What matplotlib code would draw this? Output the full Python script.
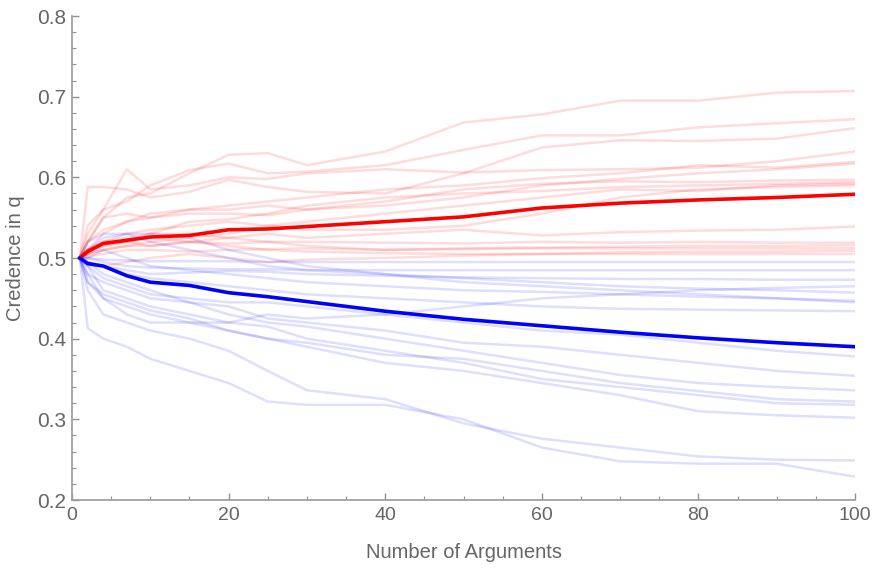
import matplotlib
matplotlib.use("Agg")
import matplotlib.pyplot as plt
from matplotlib.ticker import MultipleLocator

plt.rcParams['font.family'] = ['Liberation Sans', 'DejaVu Sans']

# x positions (number of arguments) where values were read
x_knots = [1, 2, 4, 7, 10, 15, 20, 25, 30, 40, 50, 60, 70, 80, 90, 100]

# Mean credence (thick lines)
red_mean = [0.500, 0.508, 0.518, 0.522, 0.526, 0.528, 0.535, 0.536, 0.539, 0.545,
            0.551, 0.562, 0.568, 0.572, 0.575, 0.579]
blue_mean = [0.500, 0.493, 0.490, 0.478, 0.470, 0.466, 0.457, 0.452, 0.446, 0.434,
             0.424, 0.416, 0.408, 0.401, 0.395, 0.390]

# Individual runs (faint lines)
red_runs = [
    [0.5, 0.52, 0.55, 0.575, 0.58, 0.605, 0.628, 0.630, 0.615, 0.632, 0.668, 0.678, 0.695, 0.695, 0.705, 0.707],
    [0.5, 0.53, 0.56, 0.57, 0.59, 0.609, 0.617, 0.605, 0.607, 0.615, 0.634, 0.652, 0.652, 0.662, 0.667, 0.672],
    [0.5, 0.588, 0.588, 0.585, 0.575, 0.582, 0.597, 0.588, 0.582, 0.58, 0.605, 0.637, 0.646, 0.645, 0.648, 0.661],
    [0.5, 0.54, 0.56, 0.61, 0.585, 0.59, 0.60, 0.598, 0.605, 0.61, 0.606, 0.609, 0.61, 0.612, 0.62, 0.632],
    [0.5, 0.51, 0.53, 0.545, 0.555, 0.56, 0.565, 0.57, 0.575, 0.585, 0.59, 0.599, 0.605, 0.615, 0.612, 0.619],
    [0.5, 0.52, 0.55, 0.555, 0.55, 0.56, 0.56, 0.565, 0.56, 0.565, 0.575, 0.59, 0.598, 0.605, 0.61, 0.617],
    [0.5, 0.52, 0.535, 0.545, 0.55, 0.555, 0.555, 0.553, 0.56, 0.57, 0.585, 0.592, 0.595, 0.594, 0.596, 0.597],
    [0.5, 0.51, 0.515, 0.52, 0.53, 0.545, 0.548, 0.555, 0.565, 0.575, 0.58, 0.583, 0.588, 0.59, 0.592, 0.594],
    [0.5, 0.505, 0.51, 0.515, 0.52, 0.525, 0.53, 0.54, 0.545, 0.555, 0.565, 0.575, 0.585, 0.583, 0.59, 0.592],
    [0.5, 0.51, 0.52, 0.52, 0.515, 0.52, 0.525, 0.53, 0.525, 0.53, 0.535, 0.528, 0.532, 0.534, 0.535, 0.539],
    [0.5, 0.505, 0.51, 0.515, 0.515, 0.52, 0.518, 0.52, 0.52, 0.519, 0.518, 0.52, 0.519, 0.52, 0.519, 0.519],
    [0.5, 0.51, 0.52, 0.525, 0.53, 0.53, 0.525, 0.52, 0.515, 0.51, 0.512, 0.513, 0.514, 0.515, 0.515, 0.516],
    [0.5, 0.502, 0.505, 0.51, 0.51, 0.508, 0.51, 0.511, 0.512, 0.51, 0.511, 0.512, 0.512, 0.512, 0.512, 0.512],
    [0.5, 0.495, 0.49, 0.495, 0.50, 0.505, 0.50, 0.495, 0.498, 0.50, 0.503, 0.505, 0.507, 0.508, 0.508, 0.509],
    [0.5, 0.505, 0.515, 0.52, 0.525, 0.52, 0.515, 0.51, 0.508, 0.506, 0.505, 0.505, 0.505, 0.505, 0.505, 0.505],
    [0.5, 0.51, 0.52, 0.53, 0.535, 0.54, 0.545, 0.54, 0.535, 0.535, 0.54, 0.555, 0.575, 0.585, 0.588, 0.590],
]
blue_runs = [
    [0.5, 0.413, 0.40, 0.39, 0.375, 0.36, 0.345, 0.322, 0.318, 0.318, 0.30, 0.265, 0.248, 0.245, 0.245, 0.229],
    [0.5, 0.46, 0.43, 0.42, 0.41, 0.40, 0.385, 0.36, 0.336, 0.325, 0.295, 0.276, 0.265, 0.254, 0.25, 0.249],
    [0.5, 0.48, 0.45, 0.44, 0.43, 0.42, 0.41, 0.40, 0.39, 0.37, 0.36, 0.345, 0.33, 0.31, 0.305, 0.302],
    [0.5, 0.49, 0.46, 0.45, 0.44, 0.43, 0.42, 0.415, 0.40, 0.385, 0.37, 0.35, 0.34, 0.33, 0.32, 0.318],
    [0.5, 0.47, 0.455, 0.445, 0.435, 0.425, 0.41, 0.40, 0.395, 0.38, 0.375, 0.36, 0.345, 0.335, 0.325, 0.322],
    [0.5, 0.495, 0.48, 0.47, 0.46, 0.445, 0.43, 0.42, 0.415, 0.40, 0.385, 0.37, 0.355, 0.345, 0.34, 0.336],
    [0.5, 0.48, 0.47, 0.46, 0.45, 0.445, 0.44, 0.425, 0.42, 0.41, 0.395, 0.39, 0.38, 0.37, 0.36, 0.354],
    [0.5, 0.49, 0.475, 0.465, 0.455, 0.45, 0.445, 0.445, 0.44, 0.43, 0.42, 0.41, 0.405, 0.395, 0.385, 0.378],
    [0.5, 0.495, 0.49, 0.48, 0.475, 0.47, 0.465, 0.46, 0.455, 0.45, 0.445, 0.44, 0.437, 0.436, 0.435, 0.434],
    [0.5, 0.50, 0.51, 0.50, 0.49, 0.485, 0.48, 0.475, 0.47, 0.465, 0.46, 0.458, 0.455, 0.452, 0.45, 0.447],
    [0.5, 0.52, 0.53, 0.53, 0.52, 0.51, 0.50, 0.49, 0.485, 0.48, 0.475, 0.47, 0.465, 0.462, 0.46, 0.457],
    [0.5, 0.495, 0.49, 0.485, 0.48, 0.482, 0.484, 0.483, 0.48, 0.478, 0.476, 0.475, 0.474, 0.474, 0.473, 0.473],
    [0.5, 0.50, 0.495, 0.49, 0.488, 0.487, 0.486, 0.486, 0.485, 0.485, 0.485, 0.485, 0.485, 0.485, 0.485, 0.485],
    [0.5, 0.50, 0.498, 0.497, 0.496, 0.496, 0.496, 0.495, 0.495, 0.495, 0.495, 0.495, 0.495, 0.495, 0.495, 0.495],
    [0.5, 0.47, 0.45, 0.43, 0.42, 0.42, 0.42, 0.43, 0.425, 0.43, 0.44, 0.45, 0.455, 0.46, 0.463, 0.465],
    [0.5, 0.51, 0.525, 0.53, 0.53, 0.525, 0.51, 0.50, 0.49, 0.48, 0.47, 0.465, 0.46, 0.455, 0.45, 0.445],
]

x_label = "Number of Arguments"
y_label = "Credence in q"
x_ticks = [0, 20, 40, 60, 80, 100]
y_ticks = [0.2, 0.3, 0.4, 0.5, 0.6, 0.7, 0.8]

fig = plt.figure(figsize=(8.72, 5.69), dpi=100)
ax = fig.add_axes([72 / 872, (569 - 500) / 569, 783 / 872, 484 / 569])

for run in red_runs:
    ax.plot(x_knots, run, color=(1.0, 0.0, 0.0), alpha=0.14, lw=1.8, solid_joinstyle='round')
for run in blue_runs:
    ax.plot(x_knots, run, color=(0.0, 0.0, 1.0), alpha=0.13, lw=1.8, solid_joinstyle='round')

ax.plot(x_knots, red_mean, color=(1.0, 0.0, 0.0), lw=2.6, solid_joinstyle='round')
ax.plot(x_knots, blue_mean, color=(0.0, 0.0, 1.0), lw=2.6, solid_joinstyle='round')

ax.set_xlim(0, 100)
ax.set_ylim(0.2, 0.8)
ax.set_xticks(x_ticks)
ax.set_yticks(y_ticks)
ax.set_xticklabels([str(t) for t in x_ticks])
ax.set_yticklabels([f"{t:.1f}" for t in y_ticks])
ax.xaxis.set_minor_locator(MultipleLocator(5))
ax.yaxis.set_minor_locator(MultipleLocator(0.02))

spine_col = '#a0a0a0'
text_col = '#666666'
for s in ['top', 'right']:
    ax.spines[s].set_visible(False)
for s in ['left', 'bottom']:
    ax.spines[s].set_color(spine_col)
    ax.spines[s].set_linewidth(1.3)

ax.tick_params(which='major', direction='in', length=5, width=1, color='#909090',
               labelcolor=text_col)
ax.tick_params(which='minor', direction='in', length=3, width=0.8, color='#909090')
ax.tick_params(axis='x', pad=5, labelsize=14)
ax.tick_params(axis='y', pad=4, labelsize=15)

ax.set_xlabel(x_label, color=text_col, fontsize=14.5, labelpad=14)
ax.set_ylabel(y_label, color=text_col, fontsize=14.5, labelpad=9)

fig.savefig("out.png", dpi=100)
